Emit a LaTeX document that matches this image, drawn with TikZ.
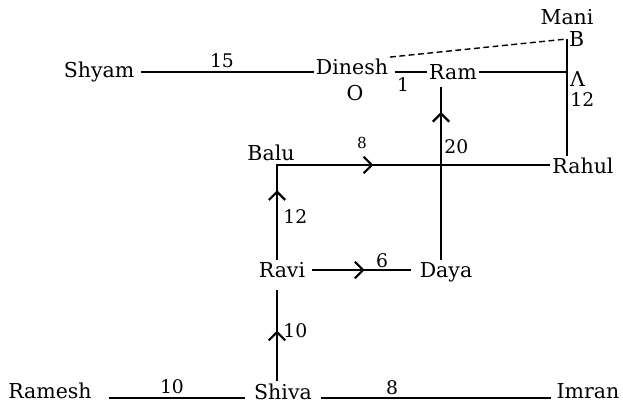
\documentclass[tikz,border=0pt]{standalone}
\usepackage{fontspec}
\setmainfont{DejaVu Serif}
\usetikzlibrary{arrows.meta,decorations.markings}

\tikzset{
  fine/.style={line width=1.2pt},
  bold/.style={line width=2.3pt},
  chev/.style={postaction={decorate,decoration={markings,
      mark=at position #1 with {\arrow{Straight Barb[length=7pt,width=14pt,line width=1.9pt]}}}}},
  place/.style={font=\fontsize{17.5}{19}\selectfont, inner sep=1.5pt},
  km/.style={font=\fontsize{16}{18}\selectfont, inner sep=1pt},
  smallkm/.style={font=\fontsize{13}{15}\selectfont, inner sep=1pt}
}

\begin{document}
\begin{tikzpicture}[x=0.03cm,y=-0.03cm]
  \useasboundingbox (0,0) rectangle (623,405);

  \begin{scope}[every node/.style={place}]
    \node (Mani)   at (567,17)  {Mani};
    \node[anchor=west] (B)   at (567,39) {B};
    \node[anchor=west] (A)   at (568,79) {Λ};
    \node (Shyam)  at (99,72)   {Shyam};
    \node (Dinesh) at (352,67)  {Dinesh};
    \node (O)      at (355,93)  {O};
    \node (Ram)    at (453,72)  {Ram};
    \node (Balu)   at (271,153) {Balu};
    \node (Rahul)  at (583,166) {Rahul};
    \node (Ravi)   at (282,270) {Ravi};
    \node (Daya)   at (446,272) {Daya};
    \node[anchor=base] (Ramesh) at (50,398)  {Ramesh};
    \node[anchor=base] (Shiva)  at (283,399) {Shiva};
    \node[anchor=base] (Imran)  at (588,398) {Imran};
  \end{scope}

  \coordinate (corner) at (277,165);
  \coordinate (cross)  at (441,165);

  % roads
  \draw[fine, shorten <=4pt] (Shyam.east) -- (Shyam.east -| Dinesh.west);
  \draw[fine, shorten <=4pt] (Dinesh.east |- Ram.west) -- (Ram.west);
  \draw[bold] (Ram.east) -- (Ram.east -| B.west);
  \draw[bold] (B.west) -- (B.west |- Rahul.north);
  \draw[fine, dash pattern=on 5pt off 3pt] (Dinesh.north east) -- (B.west);
  \draw[bold, chev=0.83, shorten >=5pt] (cross |- Daya.north) -- (cross |- Ram.south);
  \draw[bold, line join=miter, chev=0.19, chev=0.52] (corner |- Ravi.north) -- (corner) -- (corner -| Rahul.west);
  \draw[bold, chev=0.52, shorten <=4pt, shorten >=6pt] (Ravi.east) -- (Ravi.east -| Daya.west);
  \draw[bold, chev=0.5, shorten >=9pt] (corner |- Shiva.north) -- (corner |- Ravi.south);
  \draw[bold, shorten <=13pt, shorten >=6pt] (Ramesh.base east) -- (Ramesh.base east -| Shiva.west);
  \draw[fine, shorten <=6pt, shorten >=3pt] (Shiva.base east |- Imran.base west) -- (Imran.base west);

  % distances
  \begin{scope}[every node/.style={km}]
    \node (d15)  at (222,61)  {15};
    \node (d1)   at (403,85)  {1};
    \node[anchor=west] (d12a) at (569,100) {12};
    \node[anchor=west] (d20)  at (443,147) {20};
    \node[anchor=west] (d12b) at (282,217) {12};
    \node (d6)   at (382,261) {6};
    \node[anchor=west] (d10a) at (282,331) {10};
    \node (d10b) at (172,387) {10};
    \node (d8b)  at (392,388) {8};
  \end{scope}
  \node[smallkm] (d8a) at (362,143) {8};
\end{tikzpicture}
\end{document}
